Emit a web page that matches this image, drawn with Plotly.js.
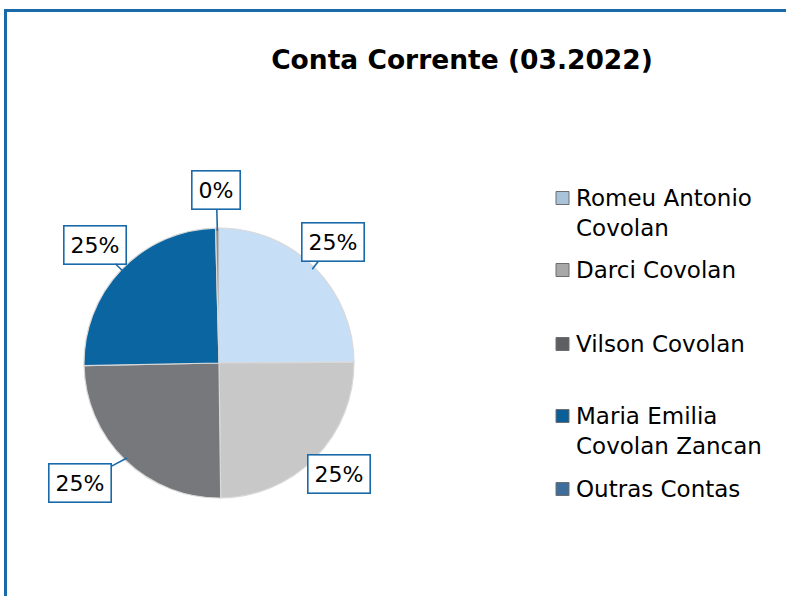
<!DOCTYPE html>
<html>
<head>
<meta charset="utf-8">
<script src="https://cdn.plot.ly/plotly-3.0.1.min.js"></script>
<style>html,body{margin:0;padding:0;background:#fff;}#chart{width:786px;height:596px;}</style>
</head>
<body>
<div id="chart"></div>
<script>
// ---- data ----
const chartTitle = 'Conta Corrente (03.2022)';
const labels = ['Romeu Antonio Covolan', 'Darci Covolan', 'Vilson Covolan', 'Maria Emilia Covolan Zancan', 'Outras Contas'];
const legendText = ['Romeu Antonio<br>Covolan', 'Darci Covolan', 'Vilson Covolan', 'Maria Emilia<br>Covolan Zancan', 'Outras Contas'];
const values = [24.9, 24.9, 24.9, 24.9, 0.4];

// ---- styles ----
const W = 786, H = 596;
const colors = ['#C6DFF6', '#C8C8C8', '#77787C', '#0B65A1', '#8C8C8C'];
const legendSymbolColors = ['#A9C3DA', '#A8A8A8', '#5E5F62', '#0B5F98', '#3F6E9C'];
const blue = '#1A69A8';
const fontFam = '"DejaVu Sans", "Liberation Sans", sans-serif';
// pie domain (pixels)
const pieBox = {x0: 84, x1: 354, y0: 228, y1: 498};
// label box offsets from arrow tip (pixels)
const labelOffsets = [[21, -27], [26, 18], [-47, 25], [-28, -27], [-1, -41]];
// legend layout (pixels)
const legendSymX = 556, legendTextX = 574;
const legendY = [213, 270, 344, 431, 489];
const legendSymY = [198, 270, 344, 416, 489];

const px2x = p => p / W;
const px2y = p => 1 - p / H;

const domain = {x: [px2x(pieBox.x0), px2x(pieBox.x1)], y: [px2y(pieBox.y1), px2y(pieBox.y0)]};

const trace = {
  type: 'pie',
  labels: labels,
  values: values,
  sort: false,
  direction: 'clockwise',
  rotation: 0,
  domain: domain,
  textinfo: 'none',
  hoverinfo: 'label+percent',
  marker: {colors: colors, line: {color: '#D9D9D9', width: 1.2}},
  showlegend: false
};

const total = values.reduce((a, b) => a + b, 0);
const cx = (pieBox.x0 + pieBox.x1) / 2, cy = (pieBox.y0 + pieBox.y1) / 2;
const R = Math.min(pieBox.x1 - pieBox.x0, pieBox.y1 - pieBox.y0) / 2;

const annotations = [];
let cum = 0;
values.forEach((v, i) => {
  const mid = (cum + v / 2) / total * 2 * Math.PI;
  cum += v;
  const r = R * 0.98;
  const tx = cx + r * Math.sin(mid), ty = cy - r * Math.cos(mid);
  annotations.push({
    x: px2x(tx), y: px2y(ty), xref: 'paper', yref: 'paper',
    text: Math.round(v / total * 100) + '%',
    showarrow: true, arrowhead: 0, arrowwidth: 1.6, arrowcolor: blue,
    ax: labelOffsets[i][0], ay: labelOffsets[i][1],
    bgcolor: '#FFFFFF', bordercolor: blue, borderwidth: 1.6, borderpad: 6,
    font: {family: fontFam, size: 22, color: '#000'}
  });
});

legendText.forEach((t, i) => {
  annotations.push({
    x: px2x(legendTextX), y: px2y(legendY[i]), xref: 'paper', yref: 'paper',
    xanchor: 'left', yanchor: 'middle', align: 'left', showarrow: false,
    text: t, font: {family: fontFam, size: 23, color: '#000'}
  });
});

const shapes = [
  {type: 'rect', xref: 'paper', yref: 'paper', x0: px2x(5.5), x1: 1.05, y0: -0.05, y1: px2y(10.5),
   line: {color: blue, width: 3}, fillcolor: 'rgba(0,0,0,0)', layer: 'below'}
];
legendSymY.forEach((y, i) => {
  shapes.push({type: 'rect', xref: 'paper', yref: 'paper',
    x0: px2x(legendSymX), x1: px2x(legendSymX + 13), y0: px2y(y + 6.5), y1: px2y(y - 6.5),
    fillcolor: legendSymbolColors[i], line: {color: '#6E6E6E', width: 1}});
});

const layout = {
  width: W, height: H,
  margin: {l: 0, r: 0, t: 0, b: 0},
  paper_bgcolor: '#FFFFFF',
  title: {text: '<b>' + chartTitle + '</b>', x: px2x(462), xanchor: 'center', y: px2y(60), yanchor: 'middle',
          font: {family: fontFam, size: 26.5, color: '#000'}},
  showlegend: false,
  annotations: annotations,
  shapes: shapes
};

Plotly.newPlot('chart', [trace], layout, {displayModeBar: false, staticPlot: true});
</script>
</body>
</html>
